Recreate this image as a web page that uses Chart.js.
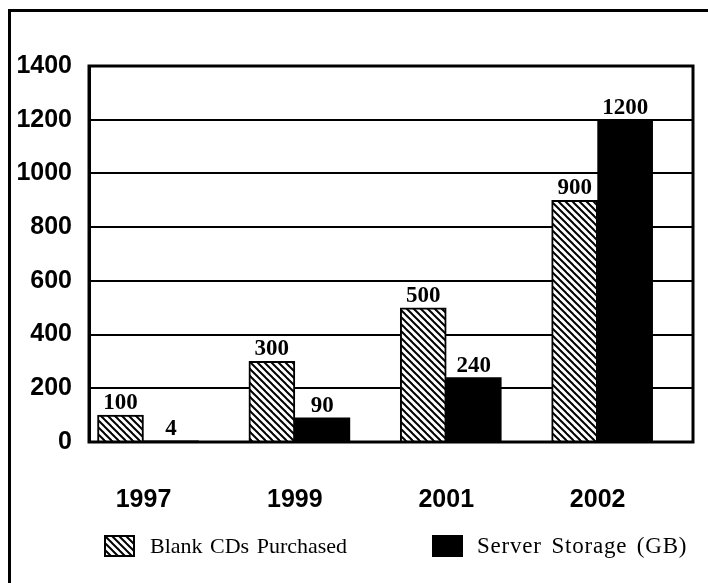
<!DOCTYPE html>
<html>
<head>
<meta charset="utf-8">
<title>Blank CDs and Server Storage</title>
<script src="https://cdn.jsdelivr.net/npm/chart.js@4.4.1/dist/chart.umd.min.js"></script>
<style>
  body { margin: 0; background: #fff; overflow: hidden; }
  #wrap { position: relative; width: 708px; height: 583px; overflow: hidden; background: #fff; }
  #frame { position: absolute; left: 8px; top: 9px; width: 720px; height: 600px; border-left: 3px solid #000; border-top: 3px solid #000; }
  #chart { position: absolute; left: 0; top: 0; }
  .legend-item { position: absolute; top: 535px; height: 22px; display: flex; align-items: center; font-family: "Liberation Serif", "Times New Roman", serif; font-size: 22px; color: #000; white-space: nowrap; }
  .swatch { box-sizing: border-box; width: 31px; height: 22px; border: 2px solid #000; margin-right: 15px; }
</style>
</head>
<body>
<div id="wrap">
  <div id="frame"></div>
  <canvas id="chart" width="708" height="583"></canvas>
  <div id="legend"></div>
</div>
<script>
const years = ['1997', '1999', '2001', '2002'];
const blankCds = [100, 300, 500, 900];
const serverStorage = [4, 90, 240, 1200];
const seriesNames = ['Blank CDs Purchased', 'Server Storage (GB)'];

const axisFont = { family: '"Liberation Sans", Arial, sans-serif', size: 25, weight: 'bold' };

// diagonal hatch for the CD bars
function makeHatch() {
  const size = 7;
  const c = document.createElement('canvas');
  c.width = size;
  c.height = size;
  const g = c.getContext('2d');
  g.fillStyle = '#fff';
  g.fillRect(0, 0, size, size);
  g.strokeStyle = '#000';
  g.lineWidth = 2;
  for (let k = -1; k <= 1; k++) {
    g.beginPath();
    g.moveTo(-1, -1 + k * size);
    g.lineTo(size + 1, size + 1 + k * size);
    g.stroke();
  }
  return c;
}

const hatchCanvas = makeHatch();
const hatch = document.getElementById('chart').getContext('2d').createPattern(hatchCanvas, 'repeat');

const plotFrame = {
  id: 'plotFrame',
  afterDatasetsDraw(chart) {
    const { ctx, chartArea } = chart;
    ctx.save();
    ctx.strokeStyle = '#000';
    ctx.lineWidth = 3;
    ctx.strokeRect(chartArea.left, chartArea.top, chartArea.right - chartArea.left, chartArea.bottom - chartArea.top);
    ctx.restore();
  }
};

const valueLabels = {
  id: 'valueLabels',
  afterDatasetsDraw(chart) {
    const ctx = chart.ctx;
    ctx.save();
    ctx.font = 'bold 23px "Liberation Serif", serif';
    ctx.fillStyle = '#000';
    ctx.textAlign = 'center';
    ctx.textBaseline = 'alphabetic';
    chart.data.datasets.forEach((ds, i) => {
      chart.getDatasetMeta(i).data.forEach((bar, j) => {
        ctx.fillText(String(ds.data[j].y), bar.x, bar.y - 6);
      });
    });
    ctx.restore();
  }
};

const chart = new Chart(document.getElementById('chart'), {
  type: 'bar',
  data: {
    datasets: [{
      label: seriesNames[0],
      data: years.map((y, i) => ({ x: i, y: blankCds[i] })),
      backgroundColor: hatch,
      borderColor: '#000',
      borderWidth: 2,
      barThickness: 46
    }, {
      label: seriesNames[1],
      data: years.map((y, i) => ({ x: i, y: serverStorage[i] })),
      backgroundColor: '#000',
      borderColor: '#000',
      borderWidth: 0,
      barThickness: 55
    }]
  },
  options: {
    responsive: false,
    animation: false,
    devicePixelRatio: 1,
    layout: { padding: { left: 0, top: 66, right: 15, bottom: 0 } },
    plugins: {
      legend: { display: false },
      tooltip: { enabled: false }
    },
    scales: {
      x: {
        type: 'linear',
        offset: false,
        min: -0.36,
        max: 3.63,
        grid: { display: false },
        border: { display: false },
        afterBuildTicks: (scale) => { scale.ticks = years.map((y, i) => ({ value: i })); },
        afterFit: (scale) => { scale.height = 141; },
        ticks: {
          callback: (v) => years[v],
          padding: 35,
          maxRotation: 0,
          autoSkip: false,
          color: '#000',
          font: axisFont
        }
      },
      y: {
        min: 0,
        max: 1400,
        afterFit: (scale) => { scale.width = 89; },
        grid: { color: '#000', lineWidth: 2, drawTicks: false },
        border: { color: '#000', width: 3 },
        ticks: { stepSize: 200, padding: 17, color: '#000', font: axisFont, callback: (v) => String(v) }
      }
    }
  },
  plugins: [plotFrame, valueLabels]
});

// legend under the axis
const legendLefts = [104, 432];
const legendEl = document.getElementById('legend');
chart.data.datasets.forEach((ds, i) => {
  const item = document.createElement('div');
  item.className = 'legend-item';
  item.style.left = legendLefts[i] + 'px';
  const sw = document.createElement('span');
  sw.className = 'swatch';
  if (i === 0) {
    sw.style.backgroundImage = 'url(' + hatchCanvas.toDataURL() + ')';
    item.style.wordSpacing = '2px';
  } else {
    sw.style.background = '#000';
    sw.style.marginRight = '14px';
    item.style.fontSize = '23px';
    item.style.letterSpacing = '0.8px';
    item.style.wordSpacing = '3px';
  }
  const txt = document.createElement('span');
  txt.textContent = ds.label;
  item.appendChild(sw);
  item.appendChild(txt);
  legendEl.appendChild(item);
});
</script>
</body>
</html>
